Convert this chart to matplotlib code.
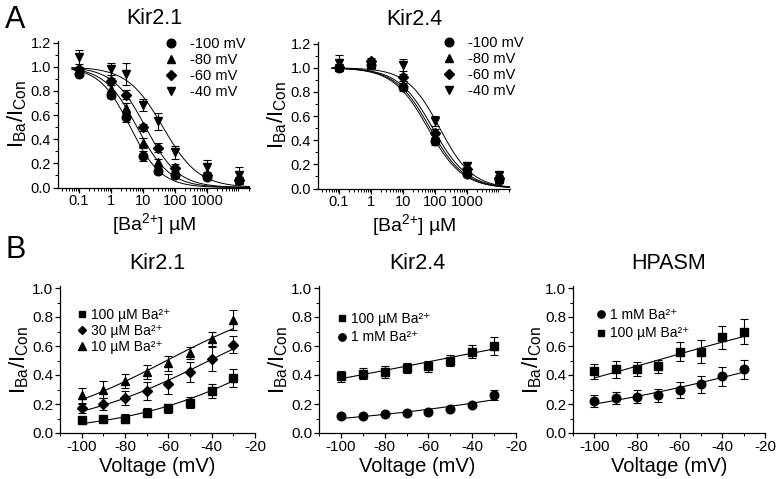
import numpy as np
import matplotlib
matplotlib.use("Agg")
import matplotlib.pyplot as plt
from matplotlib.ticker import MultipleLocator, FixedLocator, LogLocator, NullFormatter, FuncFormatter

plt.rcParams['font.family'] = ['Liberation Sans', 'DejaVu Sans']
plt.rcParams['mathtext.fontset'] = 'custom'
plt.rcParams['mathtext.rm'] = 'Liberation Sans'
plt.rcParams['mathtext.it'] = 'Liberation Sans:italic'
plt.rcParams['mathtext.default'] = 'regular'

# ---------------- Panel A data ----------------
conc_21 = [0.1, 1, 3, 10, 30, 100, 1000, 10000]
k21_m100 = [0.94, 0.77, 0.58, 0.26, 0.14, 0.10, 0.09, 0.06]
k21_m80 = [0.97, 0.82, 0.66, 0.37, 0.21, 0.13, 0.10, 0.07]
k21_m60 = [0.98, 0.88, 0.77, 0.50, 0.33, 0.165, 0.10, 0.06]
k21_m40 = [1.08, 0.98, 0.94, 0.68, 0.55, 0.29, 0.17, 0.10]
k21_e100 = [0.02, 0.03, 0.04, 0.04, 0.03, 0.02, 0.02, 0.02]
k21_e80 = [0.02, 0.03, 0.04, 0.04, 0.03, 0.02, 0.02, 0.02]
k21_e60 = [0.02, 0.03, 0.04, 0.03, 0.04, 0.03, 0.03, 0.03]
k21_e40 = [0.06, 0.05, 0.09, 0.05, 0.07, 0.05, 0.06, 0.07]
ic50_21 = [4.0, 6.5, 12.0, 42.0]
hill_21 = [0.9, 0.85, 0.85, 0.78]

conc_24 = [0.1, 1, 10, 100, 1000, 10000]
k24_m100 = [1.00, 1.02, 0.84, 0.39, 0.12, 0.07]
k24_m80 = [1.01, 1.03, 0.86, 0.41, 0.14, 0.08]
k24_m60 = [1.01, 1.06, 0.92, 0.46, 0.16, 0.09]
k24_m40 = [1.04, 1.02, 1.02, 0.56, 0.19, 0.11]
k24_e100 = [0.02, 0.02, 0.03, 0.03, 0.02, 0.02]
k24_e80 = [0.02, 0.02, 0.03, 0.03, 0.02, 0.02]
k24_e60 = [0.02, 0.02, 0.03, 0.03, 0.02, 0.02]
k24_e40 = [0.07, 0.03, 0.05, 0.04, 0.03, 0.03]
ic50_24 = [60.0, 70.0, 85.0, 140.0]
hill_24 = [0.8, 0.8, 0.8, 0.85]

a_labels = ['-100 mV', '-80 mV', '-60 mV', '-40 mV']
a_markers = ['o', '^', 'D', 'v']

# ---------------- Panel B data ----------------
volt = [-100, -90, -80, -70, -60, -50, -40, -30]

b21_100 = [0.09, 0.10, 0.10, 0.14, 0.17, 0.21, 0.29, 0.38]
b21_100e = [0.02, 0.02, 0.03, 0.03, 0.03, 0.04, 0.05, 0.06]
b21_30 = [0.17, 0.20, 0.24, 0.29, 0.34, 0.42, 0.51, 0.61]
b21_30e = [0.03, 0.04, 0.05, 0.06, 0.07, 0.07, 0.08, 0.06]
b21_10 = [0.26, 0.30, 0.36, 0.42, 0.48, 0.55, 0.65, 0.78]
b21_10e = [0.05, 0.06, 0.05, 0.05, 0.05, 0.04, 0.05, 0.07]
b21_fit_vh = [-10.7, -41.0, -60.7]
b21_fit_s = [33.5, 34.0, 32.5]

b24_100 = [0.39, 0.41, 0.42, 0.45, 0.46, 0.50, 0.56, 0.60]
b24_100e = [0.04, 0.04, 0.04, 0.035, 0.04, 0.035, 0.045, 0.06]
b24_1m = [0.12, 0.12, 0.13, 0.135, 0.145, 0.165, 0.195, 0.26]
b24_1me = [0.01, 0.01, 0.01, 0.01, 0.01, 0.01, 0.015, 0.035]
b24_fit_vh = [-57.0, 55.5]
b24_fit_s = [83.9, 70.8]

hp_1m = [0.22, 0.24, 0.25, 0.26, 0.295, 0.335, 0.39, 0.44]
hp_1me = [0.04, 0.04, 0.045, 0.045, 0.055, 0.06, 0.065, 0.065]
hp_100 = [0.425, 0.44, 0.44, 0.46, 0.56, 0.56, 0.66, 0.70]
hp_100e = [0.05, 0.06, 0.05, 0.045, 0.065, 0.08, 0.08, 0.085]
hp_fit_vh = [-8.7, -70.8]
hp_fit_s = [65.8, 59.5]

lab_100u = '100 \u00b5M Ba\u00b2\u207a'
lab_30u = '30 \u00b5M Ba\u00b2\u207a'
lab_10u = '10 \u00b5M Ba\u00b2\u207a'
lab_1m = '1 mM Ba\u00b2\u207a'

W, H = 780, 479
fig = plt.figure(figsize=(W / 100, H / 100), dpi=100)

MS = {'o': 6.2, 's': 5.6, 'D': 5.0, '^': 6.4, 'v': 6.4}


def rect(x0, x1, ytop, ybot):
    return [x0 / W, 1 - ybot / H, (x1 - x0) / W, (ybot - ytop) / H]


def style(ax, tick_fs):
    for s in ['top', 'right']:
        ax.spines[s].set_visible(False)
    for s in ['left', 'bottom']:
        ax.spines[s].set_linewidth(0.9)
    ax.tick_params(which='major', direction='out', length=3.5, width=0.9,
                   labelsize=tick_fs, pad=1.5)
    ax.tick_params(which='minor', direction='out', length=2, width=0.7)


errkw = dict(fmt='none', ecolor='black', elinewidth=0.8, capsize=2.8, capthick=0.8, zorder=2)


def panel_a(ax, conc, series, errs, ic50, hill, title, leg_xy):
    style(ax, 10.5)
    xs = np.geomspace(0.06, 22000, 300)
    for ic, n in zip(ic50, hill):
        ax.plot(xs, 1.0 / (1.0 + (xs / ic) ** n), color='black', lw=0.7, zorder=1)
    for y, e, m, lab in zip(series, errs, a_markers, a_labels):
        ax.errorbar(conc, y, yerr=e, **errkw)
        ax.plot(conc, y, ls='none', marker=m, color='black', ms=MS[m], label=lab, zorder=3)
    ax.set_xscale('log')
    ax.set_xlim(0.022, 22000)
    ax.set_ylim(0, 1.215)
    ax.xaxis.set_major_locator(FixedLocator([0.1, 1, 10, 100, 1000]))
    ax.xaxis.set_major_formatter(FuncFormatter(lambda v, p: '%g' % v))
    ax.xaxis.set_minor_locator(LogLocator(base=10, subs=np.arange(2, 10), numticks=20))
    ax.xaxis.set_minor_formatter(NullFormatter())
    ax.yaxis.set_major_locator(MultipleLocator(0.2))
    ax.yaxis.set_minor_locator(MultipleLocator(0.1))
    ax.yaxis.set_major_formatter(FuncFormatter(lambda v, p: '%.1f' % v))
    ax.set_title(title, fontsize=15.5, pad=12)
    ax.set_xlabel('[Ba$^{2{+}}$] \u00b5M', fontsize=14, labelpad=2)
    ax.set_ylabel('I$_{Ba}$/I$_{Con}$', fontsize=16, labelpad=1)
    ax.legend(loc='upper left', bbox_to_anchor=(leg_xy[0] / W, 1 - leg_xy[1] / H),
              bbox_transform=fig.transFigure, frameon=False, fontsize=10.5,
              borderpad=0, handlelength=1.0, handletextpad=0.8, labelspacing=0.13,
              borderaxespad=0)


def panel_b(ax, series, errs, markers, labels, fits, title, leg_xy, lsp):
    style(ax, 11)
    vs = np.linspace(-100, -30, 100)
    for vh, s in fits:
        ax.plot(vs, 1.0 / (1.0 + np.exp((vh - vs) / s)), color='black', lw=0.8, zorder=1)
    for y, e, m, lab in zip(series, errs, markers, labels):
        ax.errorbar(volt, y, yerr=e, **errkw)
        ax.plot(volt, y, ls='none', marker=m, color='black', ms=MS[m], label=lab, zorder=3)
    ax.set_xlim(-110, -20)
    ax.set_ylim(0, 1.015)
    ax.xaxis.set_major_locator(MultipleLocator(20))
    ax.xaxis.set_minor_locator(MultipleLocator(10))
    ax.yaxis.set_major_locator(MultipleLocator(0.2))
    ax.yaxis.set_minor_locator(MultipleLocator(0.1))
    ax.yaxis.set_major_formatter(FuncFormatter(lambda v, p: '%.1f' % v))
    ax.xaxis.set_major_formatter(FuncFormatter(lambda v, p: '%d' % v))
    ax.set_title(title, fontsize=15.5, pad=12)
    ax.set_xlabel('Voltage (mV)', fontsize=14.5, labelpad=2)
    ax.set_ylabel('I$_{Ba}$/I$_{Con}$', fontsize=16, labelpad=1)
    ax.legend(loc='upper left', bbox_to_anchor=(leg_xy[0] / W, 1 - leg_xy[1] / H),
              bbox_transform=fig.transFigure, frameon=False, fontsize=10,
              borderpad=0, handlelength=0.8, handletextpad=0.3, labelspacing=lsp,
              borderaxespad=0, markerscale=0.85)


axA1 = fig.add_axes(rect(58, 250, 187.5 - 1.215 * 120.7, 187.5))
panel_a(axA1, conc_21, [k21_m100, k21_m80, k21_m60, k21_m40],
        [k21_e100, k21_e80, k21_e60, k21_e40], ic50_21, hill_21, 'Kir2.1', (164, 37))

axA2 = fig.add_axes(rect(318, 510, 188.5 - 1.215 * 120.7, 188.5))
panel_a(axA2, conc_24, [k24_m100, k24_m80, k24_m60, k24_m40],
        [k24_e100, k24_e80, k24_e60, k24_e40], ic50_24, hill_24, 'Kir2.4', (442, 36))

btop, bbot = 433 - 1.015 * 145, 433
axB1 = fig.add_axes(rect(60, 255, btop, bbot))
panel_b(axB1, [b21_100, b21_30, b21_10], [b21_100e, b21_30e, b21_10e], ['s', 'D', '^'],
        [lab_100u, lab_30u, lab_10u], list(zip(b21_fit_vh, b21_fit_s)), 'Kir2.1', (76, 308), 0.15)

axB2 = fig.add_axes(rect(319, 516, btop, bbot))
panel_b(axB2, [b24_100, b24_1m], [b24_100e, b24_1me], ['s', 'o'],
        [lab_100u, lab_1m], list(zip(b24_fit_vh, b24_fit_s)), 'Kir2.4', (336, 312), 0.32)

axB3 = fig.add_axes(rect(573, 765, btop, bbot))
panel_b(axB3, [hp_1m, hp_100], [hp_1me, hp_100e], ['o', 's'],
        [lab_1m, lab_100u], list(zip(hp_fit_vh, hp_fit_s)), 'HPASM', (595, 308), 0.32)

fig.text(5 / W, 1 - 28 / H, 'A', fontsize=22, va='baseline', ha='left')
fig.text(5 / W, 1 - 258 / H, 'B', fontsize=22, va='baseline', ha='left')

fig.savefig('out.png', dpi=100)
